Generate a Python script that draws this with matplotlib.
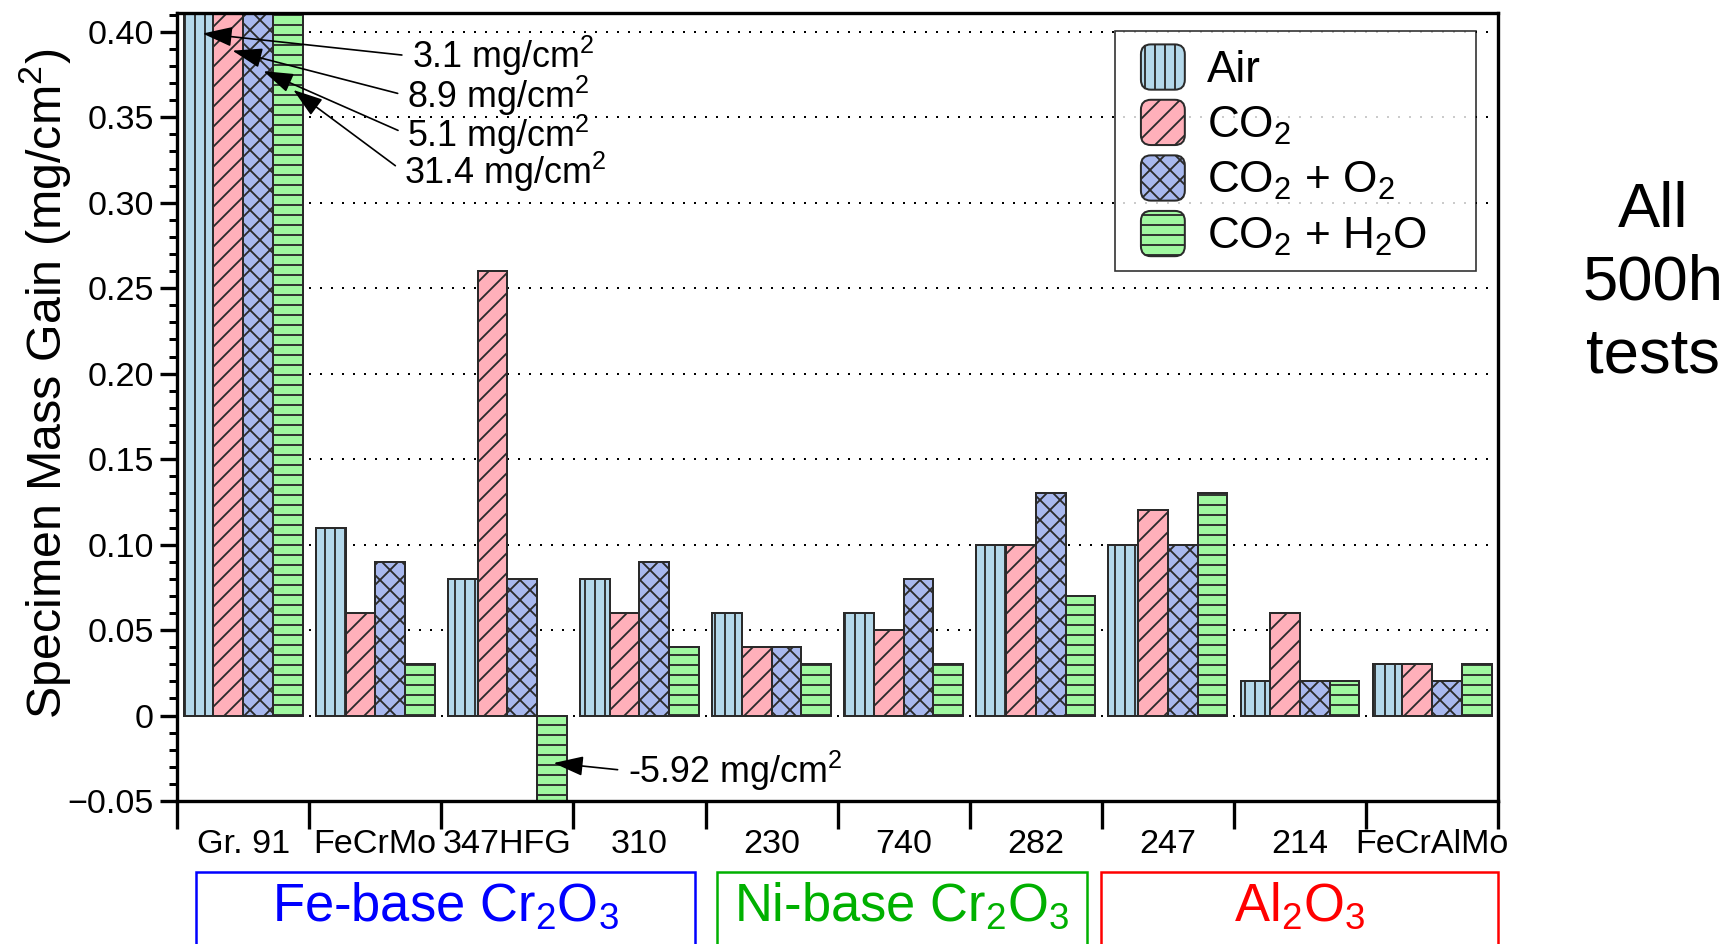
import numpy as np
import matplotlib
matplotlib.use("Agg")
import matplotlib.pyplot as plt
from matplotlib.legend_handler import HandlerPatch
from matplotlib.patches import FancyBboxPatch, Rectangle, Patch
from matplotlib.ticker import FixedLocator, MultipleLocator, FixedFormatter, NullFormatter

plt.rcParams['font.family'] = ['Liberation Sans', 'DejaVu Sans']
plt.rcParams['mathtext.default'] = 'regular'
plt.rcParams['hatch.linewidth'] = 1.1

# ---------------- data ----------------
alloys = ["Gr. 91", "FeCrMo", "347HFG", "310", "230", "740", "282", "247", "214", "FeCrAlMo"]
series = ["Air", "CO$_2$", "CO$_2$ + O$_2$", "CO$_2$ + H$_2$O"]
air = [3.1, 0.11, 0.08, 0.08, 0.06, 0.06, 0.10, 0.10, 0.02, 0.03]
co2 = [8.9, 0.06, 0.26, 0.06, 0.04, 0.05, 0.10, 0.12, 0.06, 0.03]
co2_o2 = [5.1, 0.09, 0.08, 0.09, 0.04, 0.08, 0.13, 0.10, 0.02, 0.02]
co2_h2o = [31.4, 0.03, -5.92, 0.04, 0.03, 0.03, 0.07, 0.13, 0.02, 0.03]
ytick_values = [-0.05, 0.0, 0.05, 0.10, 0.15, 0.20, 0.25, 0.30, 0.35, 0.40]
ytick_labels = ["\u22120.05", "0", "0.05", "0.10", "0.15", "0.20", "0.25", "0.30", "0.35", "0.40"]
off_scale = ["3.1 mg/cm$^2$", "8.9 mg/cm$^2$", "5.1 mg/cm$^2$", "31.4 mg/cm$^2$"]
neg_label = "-5.92 mg/cm$^2$"
groups = ["Fe-base Cr$_2$O$_3$", "Ni-base Cr$_2$O$_3$", "Al$_2$O$_3$"]

colors = ["#b4d8ea", "#ffb0ba", "#a8b8ee", "#a0f8a0"]
hatches = ["||", "//", "xx", "--"]
edge = "#2a2a2a"

# ---------------- figure ----------------
DPI = 120
fig = plt.figure(figsize=(1736 / DPI, 944 / DPI), dpi=DPI)
ax = fig.add_axes([0.1020, 0.1515, 0.7610, 0.8347])

x = np.arange(len(alloys))
w = 0.225
offsets = [-1.5 * w, -0.5 * w, 0.5 * w, 1.5 * w]
for vals, off, c, h in zip([air, co2, co2_o2, co2_h2o], offsets, colors, hatches):
    ax.bar(x + off, vals, width=w, color=c, hatch=h, edgecolor=edge, linewidth=1.2, zorder=2)

ax.set_xlim(-0.5, len(alloys) - 0.5)
ax.set_ylim(-0.05, 0.411)

# grid
for yv in ytick_values[1:]:
    ax.axhline(yv, color="black", lw=1.2, ls=(0, (1, 4.5)), zorder=1)

# y ticks
ax.yaxis.set_major_locator(FixedLocator(ytick_values))
ax.yaxis.set_major_formatter(FixedFormatter(ytick_labels))
ax.yaxis.set_minor_locator(MultipleLocator(0.01))
ax.tick_params(axis="y", which="major", direction="out", length=10, width=2, labelsize=20.5, pad=4)
ax.tick_params(axis="y", which="minor", direction="out", length=5, width=1.8)

# x ticks: boundaries as major ticks, labels at centers
ax.xaxis.set_major_locator(FixedLocator(np.arange(len(alloys) + 1) - 0.5))
ax.xaxis.set_major_formatter(NullFormatter())
ax.xaxis.set_minor_locator(FixedLocator(x))
ax.xaxis.set_minor_formatter(FixedFormatter(alloys))
ax.tick_params(axis="x", which="major", direction="out", length=17, width=2)
ax.tick_params(axis="x", which="minor", length=0, labelsize=20.5, pad=17)

for s in ax.spines.values():
    s.set_linewidth(2)
    s.set_zorder(5)

ax.set_ylabel("Specimen Mass Gain (mg/cm$^2$)", fontsize=29, labelpad=-3.5)
ax.yaxis.label.set_y(0.529)

# annotations for off-scale bars
tips = [(-0.307, 0.399), (-0.081, 0.389), (0.154, 0.377), (0.38, 0.366)]
texts = [(1.277, 0.3858), (1.244, 0.3625), (1.244, 0.3399), (1.218, 0.3179)]
aprops = dict(arrowstyle="-|>,head_length=0.9,head_width=0.3", color="black",
              lw=1.0, shrinkA=4, shrinkB=0, relpos=(0, 0.5), mutation_scale=17)
for lab, tip, tx in zip(off_scale, tips, texts):
    ax.annotate(lab, xy=tip, xytext=tx, fontsize=21.5, ha="left", va="center",
                arrowprops=aprops, zorder=6, annotation_clip=False)
ax.annotate(neg_label, xy=(2.35, -0.0278), xytext=(2.91, -0.0323), fontsize=21.5,
            ha="left", va="center", arrowprops=aprops, zorder=6)

# legend with rounded handles (square patch at right part of the handle box)
class HandlerRound(HandlerPatch):
    def create_artists(self, legend, orig_handle, xdescent, ydescent, width, height, fontsize, trans):
        pw = height * 0.97
        p = FancyBboxPatch((-xdescent + (width - pw), -ydescent), pw, height,
                           boxstyle="round,pad=0,rounding_size=%f" % (0.22 * height),
                           facecolor=orig_handle.get_facecolor(), edgecolor=edge,
                           hatch=orig_handle.get_hatch(), linewidth=1.2, transform=trans)
        return [p]

handles = [Patch(facecolor=c, hatch=h, edgecolor=edge) for c, h in zip(colors, hatches)]
leg = ax.legend(handles, series, loc="upper left", bbox_to_anchor=(0.710, 0.684, 0.273, 0.293),
                mode="expand", fontsize=26.5, frameon=True, fancybox=False, edgecolor="black",
                handlelength=1.28, handleheight=1.2, handletextpad=0.5, labelspacing=0.2,
                borderpad=0.3, borderaxespad=0,
                handler_map={Patch: HandlerRound()})
leg.get_frame().set_linewidth(1.0)
leg.set_zorder(7)

# right side text
fig.text(0.952, 0.700, "All\n500h\ntests", fontsize=38, ha="center", va="center", linespacing=1.3)

# group boxes below axis
box_specs = [(0.1129, 0.4003, "#0000ff"), (0.4130, 0.6262, "#00b000"), (0.6342, 0.8629, "#ff0000")]
for (x0, x1, c), g in zip(box_specs, groups):
    fig.patches.append(Rectangle((x0, -0.05), x1 - x0, 0.0763 + 0.05, transform=fig.transFigure,
                                 fill=False, edgecolor=c, linewidth=1.5))
    fig.text((x0 + x1) / 2, 0.040, g, color=c, fontsize=31.5, ha="center", va="center")

fig.savefig("out.png", dpi=DPI)
